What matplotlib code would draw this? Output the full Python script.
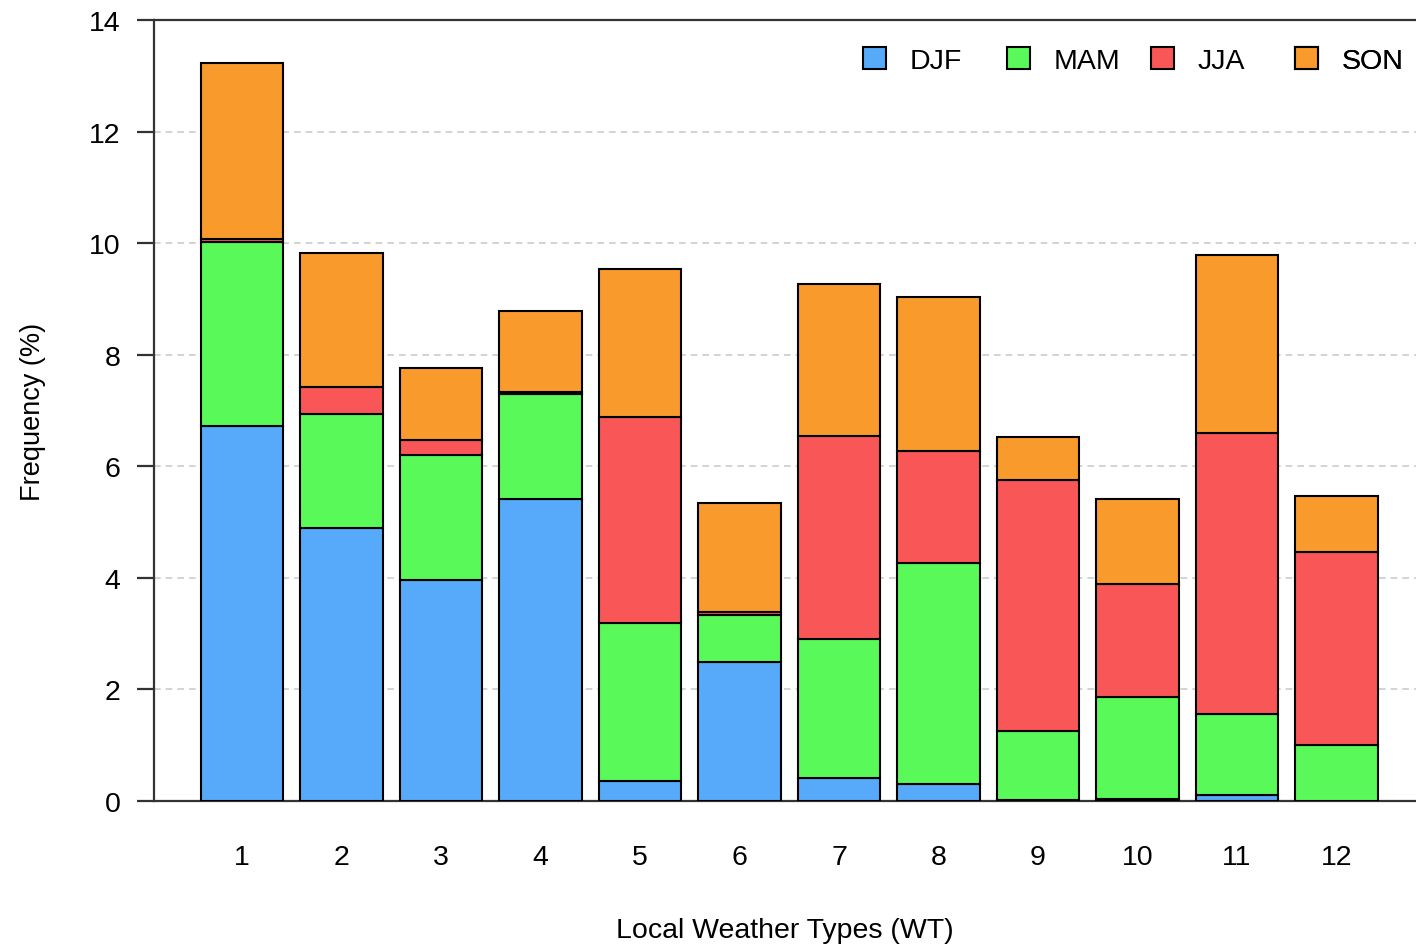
import matplotlib
matplotlib.use("Agg")
import matplotlib.pyplot as plt
import numpy as np

plt.rcParams['font.family'] = ['Liberation Sans', 'DejaVu Sans']

weather_types = ["1", "2", "3", "4", "5", "6", "7", "8", "9", "10", "11", "12"]
seasons = ["DJF", "MAM", "JJA", "SON"]

# Seasonal contribution (%) to each weather type's frequency
djf = [6.72, 4.89, 3.96, 5.41, 0.36, 2.49, 0.41, 0.30, 0.02, 0.04, 0.11, 0.00]
mam = [3.30, 2.05, 2.24, 1.88, 2.83, 0.84, 2.49, 3.97, 1.23, 1.82, 1.45, 1.00]
jja = [0.05, 0.48, 0.27, 0.04, 3.69, 0.06, 3.64, 2.00, 4.50, 2.03, 5.03, 3.46]
son = [3.16, 2.40, 1.29, 1.45, 2.65, 1.95, 2.73, 2.76, 0.77, 1.52, 3.19, 1.01]

colors = ["#57AAF9", "#59F959", "#F95757", "#F99A2D"]

fig = plt.figure(figsize=(14.16, 9.45), dpi=100)
ax = fig.add_axes([0.1088, 0.1513, 0.8912, 0.8265])

x = np.arange(1, len(weather_types) + 1)
bottom = np.zeros(len(x))
containers = []
for name, vals, c in zip(seasons, [djf, mam, jja, son], colors):
    vals = np.array(vals)
    bc = ax.bar(x, vals, width=0.83, bottom=bottom, color=c, edgecolor="black",
                linewidth=1.5, label=name, zorder=3)
    containers.append(bc)
    bottom += vals

ax.set_xlim(0.116, 12.8)
ax.set_ylim(0, 14)
ax.set_yticks(range(0, 15, 2))
ax.set_xticks(x)
ax.set_xticklabels(weather_types)

ax.yaxis.grid(True, linestyle=(0, (4, 3)), color="#cccccc", linewidth=1.2, zorder=0)
ax.set_axisbelow(True)

ax.spines["right"].set_visible(False)
for side in ["left", "top", "bottom"]:
    ax.spines[side].set_linewidth(1.6)
    ax.spines[side].set_color("#333333")

ax.tick_params(axis="y", length=12, width=1.6, color="#333333", labelsize=20.5, pad=12)
ax.tick_params(axis="x", length=0, labelsize=20.5, pad=31)

ax.set_xlabel("Local Weather Types (WT)", fontsize=20.5, labelpad=34)
ax.set_ylabel("Frequency (%)", fontsize=19.5, labelpad=31)

# Legend entries laid out on an even grid across the top right
entry_x = [0.5618, 0.6759, 0.7900, 0.9041]
for bc, name, ex in zip(containers, seasons, entry_x):
    lg = ax.legend([bc], [name], loc="center left", bbox_to_anchor=(ex, 0.9485),
                   frameon=False, fontsize=20.5, handlelength=0.8, handleheight=0.8,
                   handletextpad=0.85, borderpad=0, borderaxespad=0)
    ax.add_artist(lg)

fig.savefig("out.png", dpi=100)
